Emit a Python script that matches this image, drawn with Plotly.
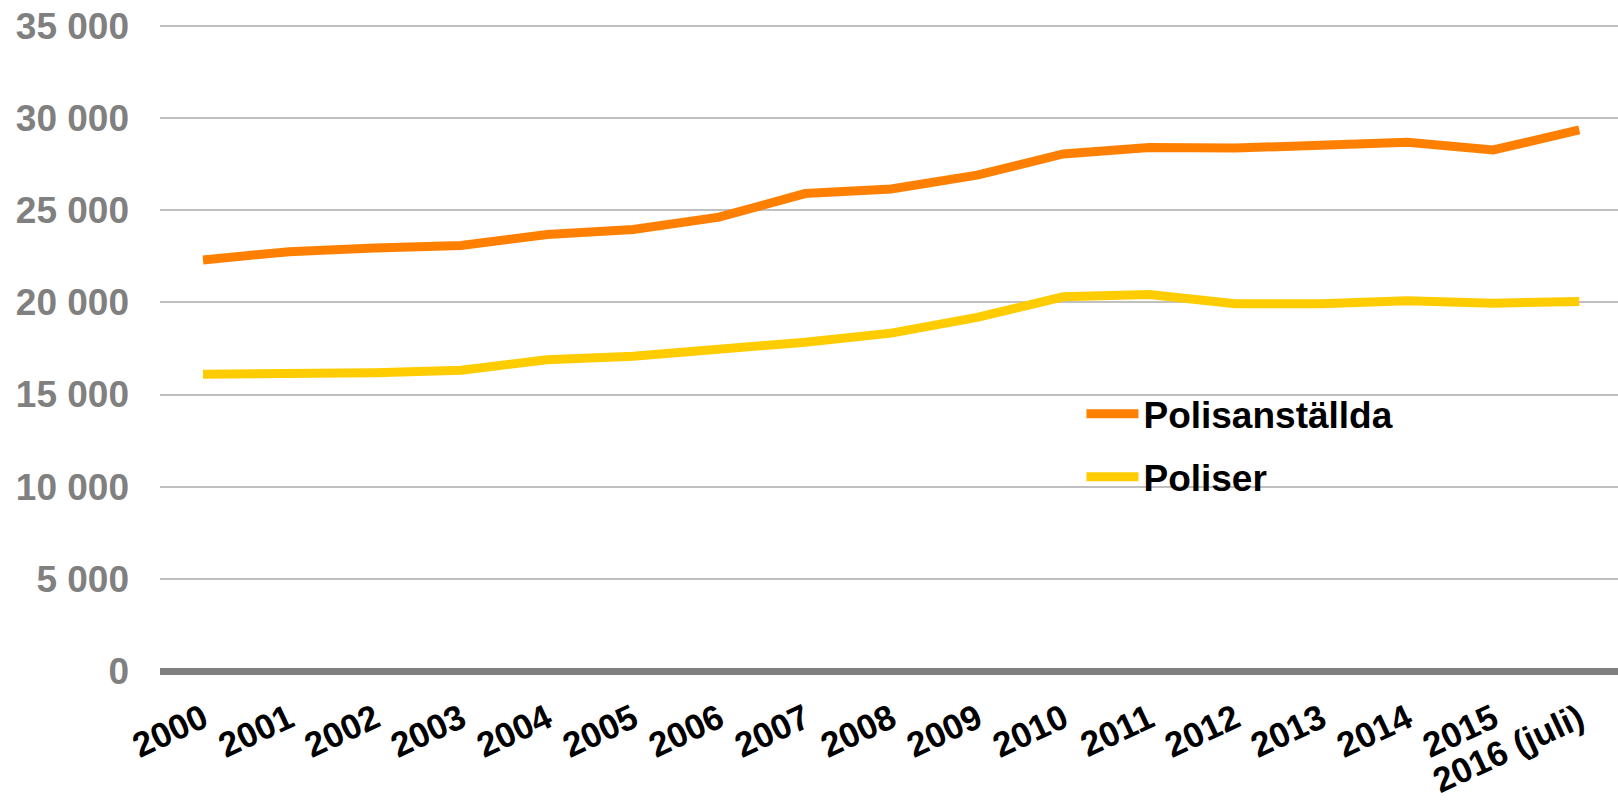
import plotly.graph_objects as go

years = ["2000", "2001", "2002", "2003", "2004", "2005", "2006", "2007", "2008",
         "2009", "2010", "2011", "2012", "2013", "2014", "2015", "2016 (juli)"]
polisanstallda = [22300, 22750, 22950, 23080, 23680, 23950, 24620, 25900, 26150,
                  26900, 28050, 28400, 28370, 28500, 28680, 28270, 29350]
poliser = [16100, 16120, 16180, 16320, 16880, 17080, 17420, 17840, 18330,
           19180, 20300, 20420, 19920, 19920, 20080, 19950, 20050]
y_ticks = [0, 5000, 10000, 15000, 20000, 25000, 30000, 35000]
y_labels = ["0", "5 000", "10 000", "15 000", "20 000", "25 000", "30 000", "35 000"]

FONT = "Liberation Sans, Arial, sans-serif"

fig = go.Figure()
fig.add_trace(go.Scatter(x=years, y=polisanstallda, mode="lines", name="<b>Polisanställda</b>",
                         line=dict(color="#FF8000", width=9), legendgroup="a"))
fig.add_trace(go.Scatter(x=years, y=poliser, mode="lines", name="<b>Poliser</b>",
                         line=dict(color="#FFCC00", width=9), legendgroup="b"))

fig.update_layout(
    width=1618, height=805,
    margin=dict(l=160, r=0, t=24, b=134),
    paper_bgcolor="white", plot_bgcolor="white",
    font=dict(family=FONT, size=34, color="black"),
    showlegend=True,
    legend=dict(x=0.632, y=0.445, xanchor="left", yanchor="top",
                bgcolor="rgba(0,0,0,0)", font=dict(family=FONT, size=37, color="black"),
                traceorder="grouped", tracegroupgap=12, itemwidth=52),
    xaxis=dict(type="category", range=[-0.5, 16.45], showgrid=False, zeroline=False,
               showline=False, ticks="", tickangle=-25, automargin=False,
               ticklabelstandoff=20,
               tickfont=dict(family=FONT, size=35, color="black"),
               tickvals=years, ticktext=["<b>%s</b>" % y for y in years]),
    yaxis=dict(range=[0, 35100], tickvals=y_ticks, ticktext=["<b>%s</b>" % t for t in y_labels],
               showgrid=True, gridcolor="#C0C0C0", gridwidth=2,
               zeroline=True, zerolinecolor="#808080", zerolinewidth=7,
               showline=False, ticks="", ticklabelstandoff=30, automargin=False,
               tickfont=dict(family=FONT, size=37, color="#808080")),
)

fig.write_html(
    "out.html",
    config={"displayModeBar": False},
    post_script="document.body.style.margin='0';document.body.style.overflow='hidden';",
)
